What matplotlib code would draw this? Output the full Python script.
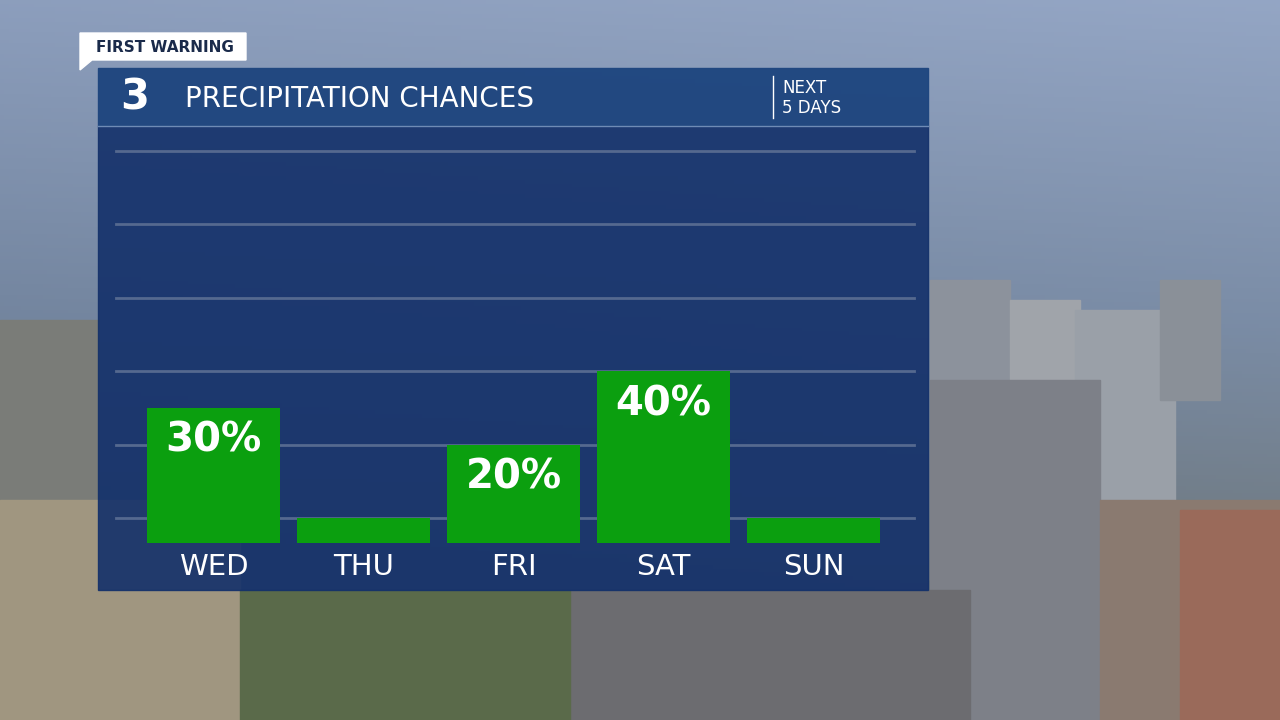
import numpy as np
import matplotlib
matplotlib.use("Agg")
import matplotlib.pyplot as plt
from matplotlib.patches import Rectangle, Polygon

days = ["WED", "THU", "FRI", "SAT", "SUN"]
chances = [30, 0, 20, 40, 0]
labels = ["30%", "", "20%", "40%", ""]
grid_levels = [0, 20, 40, 60, 80, 100]

W, H = 1280, 720
fig = plt.figure(figsize=(12.8, 7.2), dpi=100)

bg = fig.add_axes([0, 0, 1, 1])
bg.set_xlim(0, W); bg.set_ylim(H, 0); bg.axis("off")
yy = np.linspace(0, 1, 200)[:, None]
xx = np.linspace(0, 1, 300)[None, :]
top = np.array([0.55, 0.62, 0.74]); mid = np.array([0.45, 0.52, 0.62]); bot = np.array([0.38, 0.40, 0.38])
img = np.where(yy[..., None] < 0.45,
               top + (mid - top) * (yy[..., None] / 0.45),
               mid + (bot - mid) * ((yy[..., None] - 0.45) / 0.55))
img = img + 0.03 * xx[..., None]
img = np.clip(img * np.ones((1, 300, 1)), 0, 1)
bg.imshow(img, extent=[0, W, H, 0], aspect="auto")
for (x0, y0, w, h, c) in [(930, 280, 80, 300, "#8c929c"), (1010, 300, 70, 260, "#a0a4aa"),
                         (1075, 310, 100, 300, "#9aa0a8"), (1160, 280, 60, 120, "#8a9098"),
                         (930, 380, 170, 340, "#7d8088"), (1100, 500, 180, 220, "#8a7a70"),
                         (1180, 510, 100, 210, "#9a6a5a"), (0, 320, 98, 400, "#7a7c78"),
                         (0, 500, 240, 220, "#a09680"), (570, 590, 400, 130, "#6c6c70"),
                         (240, 590, 330, 130, "#5a6a4a")]:
    bg.add_patch(Rectangle((x0, y0), w, h, color=c, zorder=1))

bg.add_patch(Rectangle((98, 126), 830, 464, color="#13306a", alpha=0.9, zorder=2))
bg.add_patch(Rectangle((98, 68), 830, 58, color="#1f467f", alpha=0.97, zorder=2))
bg.plot([98, 928], [126, 126], color="#6f8bb5", lw=1, zorder=3)
bg.plot([773, 773], [76, 118], color="white", lw=1, zorder=3)
bg.add_patch(Polygon([(80, 33), (246, 33), (246, 60), (92, 60), (80, 70)], color="white", zorder=3))
bg.text(96, 47, "FIRST WARNING", color="#1a2a4a", fontsize=11, fontweight="bold", va="center", zorder=4)
bg.text(120, 98, "3", color="white", fontsize=30, fontweight="bold", va="center", zorder=4)
bg.text(185, 99, "PRECIPITATION CHANCES", color="white", fontsize=20, va="center", zorder=4)
bg.text(782, 98, "NEXT\n5 DAYS", color="white", fontsize=12, va="center", linespacing=1.1, zorder=4)

ax = fig.add_axes([98 / W, 1 - 590 / H, 830 / W, 464 / H])
ax.patch.set_alpha(0)
px = 3.67
ax.set_xlim(-115.5 / 150, 714.5 / 150)
ax.set_ylim(-72 / px, 392 / px)
ax.axis("off")
for g in grid_levels:
    ax.plot([-0.65, 4.67], [g, g], color="#55698f", lw=2, zorder=1)
base = -25 / px
x = np.arange(len(days))
bw = 133 / 150
ax.bar(x, [c - base for c in chances], bottom=base, width=bw, color="#0b9f0f", zorder=2)
for i, (d, l, c) in enumerate(zip(days, labels, chances)):
    ax.text(i, -13.4, d, color="white", fontsize=21, ha="center", va="center")
    if l:
        ax.text(i, c - 9, l, color="white", fontsize=29, fontweight="bold", ha="center", va="center", zorder=4)

fig.savefig("out.png", dpi=100)
